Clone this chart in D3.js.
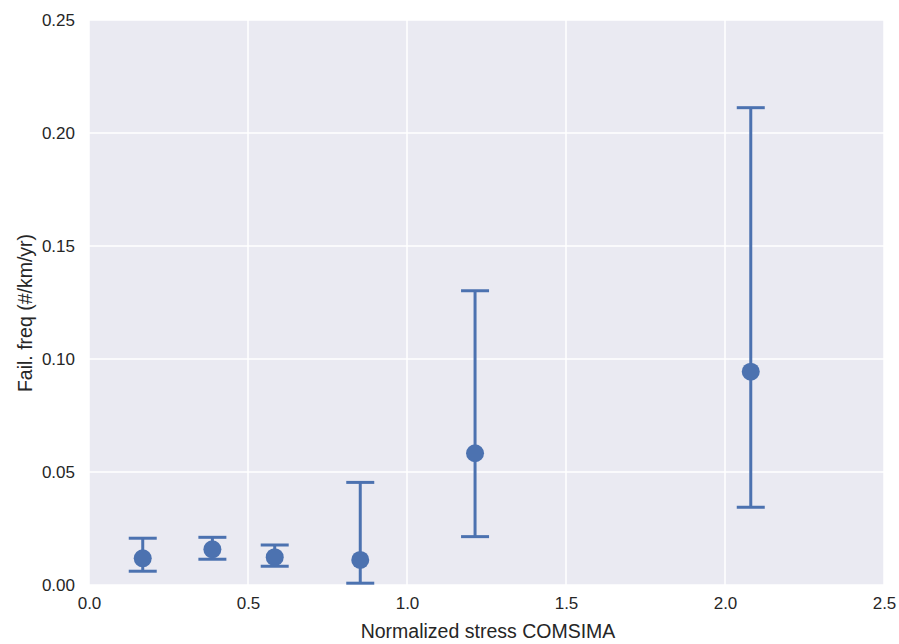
<!DOCTYPE html>
<html lang="en">
<head>
<meta charset="UTF-8">
<title>Fail. freq vs normalized stress</title>
<script src="https://cdn.jsdelivr.net/npm/d3@7"></script>
<style>
  body { margin: 0; background: #fff; }
  text { font-family: "Liberation Sans", Arial, sans-serif; fill: #262626; }
</style>
</head>
<body>
<div id="chart"></div>
<script>
// values
var stress = [0.169, 0.388, 0.584, 0.853, 1.214, 2.081];
var freq   = [0.0118, 0.0158, 0.0123, 0.0111, 0.0583, 0.0944];
var upper  = [0.0207, 0.0211, 0.0177, 0.0454, 0.1302, 0.2112];
var lower  = [0.0061, 0.0114, 0.0083, 0.0008, 0.0214, 0.0344];
var xTicks = [0, 0.5, 1.0, 1.5, 2.0, 2.5];
var yTicks = [0, 0.05, 0.10, 0.15, 0.20, 0.25];

var W = 899, H = 644;
var margin = {top: 20, right: 15, bottom: 59, left: 89};
var width = W - margin.left - margin.right;
var height = H - margin.top - margin.bottom;
var blue = "#4c72b0";

var svg = d3.select("#chart").append("svg")
    .attr("width", W)
    .attr("height", H);

var g = svg.append("g")
    .attr("transform", "translate(" + margin.left + "," + margin.top + ")");

var x = d3.scaleLinear().domain([0, 2.5]).range([0, width]);
var y = d3.scaleLinear().domain([0, 0.25]).range([height, 0]);

g.append("rect")
    .attr("width", width)
    .attr("height", height)
    .attr("fill", "#eaeaf2");

// grid
g.selectAll("line.vgrid")
    .data(xTicks)
    .enter().append("line")
    .attr("class", "vgrid")
    .attr("x1", function(d) { return x(d); })
    .attr("x2", function(d) { return x(d); })
    .attr("y1", 0).attr("y2", height)
    .attr("stroke", "#fff").attr("stroke-width", 1.5);

g.selectAll("line.hgrid")
    .data(yTicks)
    .enter().append("line")
    .attr("class", "hgrid")
    .attr("y1", function(d) { return y(d); })
    .attr("y2", function(d) { return y(d); })
    .attr("x1", 0).attr("x2", width)
    .attr("stroke", "#fff").attr("stroke-width", 1.5);

// axes (labels only, seaborn darkgrid style)
var xAxis = g.append("g")
    .attr("transform", "translate(0," + height + ")")
    .call(d3.axisBottom(x).tickValues(xTicks).tickFormat(d3.format(".1f")).tickSize(0).tickPadding(12));
var yAxis = g.append("g")
    .call(d3.axisLeft(y).tickValues(yTicks).tickFormat(d3.format(".2f")).tickSize(0).tickPadding(14));
[xAxis, yAxis].forEach(function(a) {
  a.select(".domain").remove();
  a.selectAll("text").style("font-size", "17px").attr("fill", "#262626")
    .style("font-family", "'Liberation Sans', Arial, sans-serif");
});

// error bars
var pts = stress.map(function(s, i) {
  return {x: s, y: freq[i], hi: upper[i], lo: lower[i]};
});
var cap = 14;

var bars = g.selectAll("g.err")
    .data(pts)
    .enter().append("g")
    .attr("class", "err")
    .attr("stroke", blue)
    .attr("stroke-width", 3);

bars.append("line")
    .attr("x1", function(d) { return x(d.x); })
    .attr("x2", function(d) { return x(d.x); })
    .attr("y1", function(d) { return y(d.hi); })
    .attr("y2", function(d) { return y(d.lo); });
bars.append("line")
    .attr("x1", function(d) { return x(d.x) - cap; })
    .attr("x2", function(d) { return x(d.x) + cap; })
    .attr("y1", function(d) { return y(d.hi); })
    .attr("y2", function(d) { return y(d.hi); });
bars.append("line")
    .attr("x1", function(d) { return x(d.x) - cap; })
    .attr("x2", function(d) { return x(d.x) + cap; })
    .attr("y1", function(d) { return y(d.lo); })
    .attr("y2", function(d) { return y(d.lo); });

g.selectAll("circle")
    .data(pts)
    .enter().append("circle")
    .attr("cx", function(d) { return x(d.x); })
    .attr("cy", function(d) { return y(d.y); })
    .attr("r", 9)
    .attr("fill", blue);

// axis labels
svg.append("text")
    .attr("text-anchor", "middle")
    .attr("x", 488)
    .attr("y", 638)
    .style("font-size", "19.5px")
    .text("Normalized stress COMSIMA");

svg.append("text")
    .attr("text-anchor", "middle")
    .attr("transform", "translate(31.5,313) rotate(-90)")
    .style("font-size", "19.5px")
    .text("Fail. freq (#/km/yr)");
</script>
</body>
</html>
